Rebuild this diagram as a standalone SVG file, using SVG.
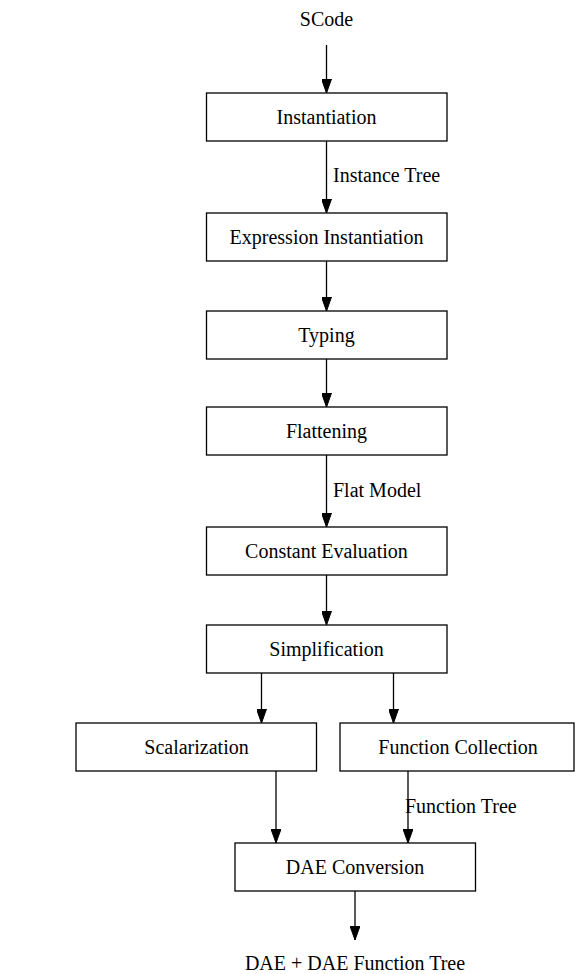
<svg xmlns="http://www.w3.org/2000/svg" width="575" height="974" viewBox="0 0 575 974">
<style>
rect.n{fill:#fff;stroke:#000;stroke-width:1.3}
text{font-family:"Liberation Serif","Times New Roman",serif;font-size:20px;fill:#000}
text.c{text-anchor:middle}
line.e{stroke:#000;stroke-width:1.3;marker-end:url(#ah)}
</style>
<defs>
<marker id="ah" viewBox="0 0 14 10" refX="14" refY="5" markerWidth="14" markerHeight="10" markerUnits="userSpaceOnUse" orient="auto">
<path d="M0,0 L14,5 L0,10 Z" fill="#000" stroke="#000" stroke-width="1"/>
</marker>
</defs>
<rect width="575" height="974" fill="#fff"/>
<g id="connectors">
<line class="e" x1="326.5" y1="45" x2="326.5" y2="93"/>
<line class="e" x1="326.5" y1="141" x2="326.5" y2="213"/>
<line class="e" x1="326.5" y1="261" x2="326.5" y2="311"/>
<line class="e" x1="326.5" y1="359" x2="326.5" y2="407"/>
<line class="e" x1="326.5" y1="455" x2="326.5" y2="527"/>
<line class="e" x1="326.5" y1="575" x2="326.5" y2="625"/>
<line class="e" x1="261.5" y1="673" x2="261.5" y2="723"/>
<line class="e" x1="393.5" y1="673" x2="393.5" y2="723"/>
<line class="e" x1="276" y1="771" x2="276" y2="843"/>
<line class="e" x1="408" y1="771" x2="408" y2="843"/>
<line class="e" x1="355" y1="891" x2="355" y2="940"/>
<text x="333" y="182">Instance Tree</text>
<text x="333" y="497">Flat Model</text>
<text x="405" y="813">Function Tree</text>
</g>
<g id="scode"><text class="c" x="326.5" y="25.5">SCode</text></g>
<g id="instantiation"><rect class="n" x="206.5" y="93" width="240.5" height="48"/><text class="c" x="326.5" y="123.5">Instantiation</text></g>
<g id="expression-instantiation"><rect class="n" x="206.5" y="213" width="240.5" height="48"/><text class="c" x="326.5" y="243.5">Expression Instantiation</text></g>
<g id="typing"><rect class="n" x="206.5" y="311" width="240.5" height="48"/><text class="c" x="326.5" y="341.5">Typing</text></g>
<g id="flattening"><rect class="n" x="206.5" y="407" width="240.5" height="48"/><text class="c" x="326.5" y="437.5">Flattening</text></g>
<g id="constant-evaluation"><rect class="n" x="206.5" y="527" width="240.5" height="48"/><text class="c" x="326.5" y="557.5">Constant Evaluation</text></g>
<g id="simplification"><rect class="n" x="206.5" y="625" width="240.5" height="48"/><text class="c" x="326.5" y="655.5">Simplification</text></g>
<g id="scalarization"><rect class="n" x="76" y="723" width="240.5" height="48"/><text class="c" x="196.5" y="753.5">Scalarization</text></g>
<g id="function-collection"><rect class="n" x="340" y="723" width="234" height="48"/><text class="c" x="458" y="753.5">Function Collection</text></g>
<g id="dae-conversion"><rect class="n" x="235" y="843" width="240.5" height="48"/><text class="c" x="355" y="873.5">DAE Conversion</text></g>
<g id="dae-output"><text class="c" x="355" y="970">DAE + DAE Function Tree</text></g>
</svg>
